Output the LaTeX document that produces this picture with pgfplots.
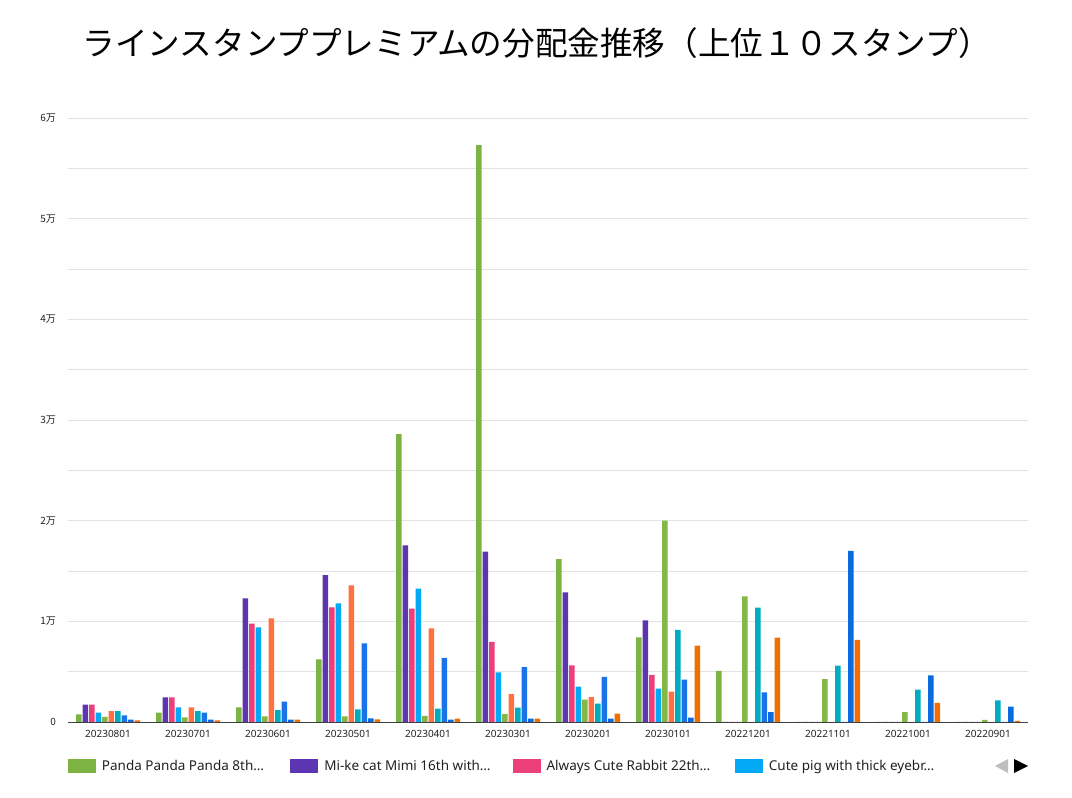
\documentclass[border=0pt]{standalone}
\usepackage{pgfplots}
\pgfplotsset{compat=1.18}
\usepackage{pgfplotstable}
\usepackage{fontspec}
\setmainfont{Noto Sans CJK JP}
\newfontfamily\latinfont{Noto Sans}
\definecolor{c1}{HTML}{7CB342}
\definecolor{c2}{HTML}{5E35B1}
\definecolor{c3}{HTML}{EC407A}
\definecolor{c4}{HTML}{03A9F4}
\definecolor{c5}{HTML}{84B846}
\definecolor{c6}{HTML}{FF7043}
\definecolor{c7}{HTML}{00ACC1}
\definecolor{c8}{HTML}{1A73E8}
\definecolor{c9}{HTML}{0B6ADF}
\definecolor{c10}{HTML}{F26D00}
\definecolor{gridc}{HTML}{E3E3E3}
\definecolor{txt}{HTML}{222222}

\pgfplotstableread{
x s1 s2 s3 s4 s5 s6 s7 s8 s9 s10
0 760 1720 1720 930 500 1090 1090 660 230 165
1 930 2450 2450 1460 460 1460 1090 930 230 165
2 1460 12285 9770 9400 560 10300 1190 2020 230 230
3 6225 14600 11390 11790 560 13580 1260 7815 365 265
4 28600 17550 11260 13245 600 9300 1325 6360 230 330
5 57300 16920 7950 4930 795 2780 1420 5460 330 330
6 16190 12880 5630 3510 2220 2480 1820 4470 330 830
7 8410 10100 4670 3310 20000 3010 9140 4200 430 7580
8 5070 0 0 0 12480 0 11360 2950 990 8380
9 0 0 0 0 4270 0 5600 0 16990 8150
10 0 0 0 0 990 0 3210 0 4640 1890
11 0 0 0 0 200 0 2150 0 1520 100
}\data

\begin{document}
\begin{tikzpicture}[x=1bp,y=1bp]
\useasboundingbox (0,0) rectangle (1072,798);
\fill[white] (0,0) rectangle (1072,798);
\node[font=\fontsize{32.6bp}{39bp}\selectfont, text=black, anchor=west, inner sep=0pt] at (82.5,755) {ラインスタンププレミアムの分配金推移（上位１０スタンプ）};
\begin{axis}[
  at={(68bp,76bp)}, anchor=south west,
  scale only axis, width=960bp, height=604bp,
  ybar=1bp, bar width=5.5bp,
  xmin=-0.5, xmax=11.5, ymin=0, ymax=60000,
  axis line style={draw=none},
  major tick length=0pt, minor tick length=0pt,
  xtick={0,...,11},
  xticklabels={20230801,20230701,20230601,20230501,20230401,20230301,20230201,20230101,20221201,20221101,20221001,20220901},
  xticklabel style={font=\latinfont\fontsize{10bp}{12bp}\selectfont, text=txt, inner sep=0pt, yshift=-8bp},
  ytick={0,10000,20000,30000,40000,50000,60000},
  yticklabels={0,1万,2万,3万,4万,5万,6万},
  yticklabel style={font=\fontsize{10bp}{12bp}\selectfont, text=txt, inner sep=0pt, xshift=-12bp},
  minor ytick={5000,15000,25000,35000,45000,55000},
  ymajorgrids, yminorgrids,
  major grid style={draw=gridc, line width=0.8bp},
  minor grid style={draw=gridc, line width=0.8bp},
  extra y ticks={0}, extra y tick labels={},
  extra y tick style={grid=major, major grid style={draw=black!75, line width=0.9bp}},
  scaled y ticks=false,
  legend image code/.code={\fill[#1] (0bp,-7bp) rectangle (28bp,7bp);},
  legend columns=4,
  legend style={at={(0,0)}, anchor=west, yshift=-44bp, draw=none, fill=none,
    inner sep=0pt, outer sep=0pt,
    nodes={inner sep=0pt, font=\latinfont\fontsize{13.5bp}{16bp}\selectfont, text=txt},
    /tikz/every odd column/.append style={column sep=6bp},
    /tikz/every even column/.append style={column sep=0bp}},
]
\addplot[fill=c1, draw=none] table[x=x, y=s1] {\data};
\addplot[fill=c2, draw=none] table[x=x, y=s2] {\data};
\addplot[fill=c3, draw=none] table[x=x, y=s3] {\data};
\addplot[fill=c4, draw=none] table[x=x, y=s4] {\data};
\addplot[fill=c5, draw=none] table[x=x, y=s5] {\data};
\addplot[fill=c6, draw=none] table[x=x, y=s6] {\data};
\addplot[fill=c7, draw=none] table[x=x, y=s7] {\data};
\addplot[fill=c8, draw=none] table[x=x, y=s8] {\data};
\addplot[fill=c9, draw=none] table[x=x, y=s9] {\data};
\addplot[fill=c10, draw=none] table[x=x, y=s10] {\data};
\legend{\makebox[188.3bp][l]{Panda Panda Panda 8th…},\makebox[188.3bp][l]{Mi-ke cat Mimi 16th with…},\makebox[188.3bp][l]{Always Cute Rabbit 22th…},\makebox[188.3bp][l]{Cute pig with thick eyebr…}}
\end{axis}
\fill[black!25] (995,32) -- (1008,39) -- (1008,25) -- cycle;
\fill[black] (1014,39) -- (1014,25) -- (1028,32) -- cycle;
\end{tikzpicture}
\end{document}
